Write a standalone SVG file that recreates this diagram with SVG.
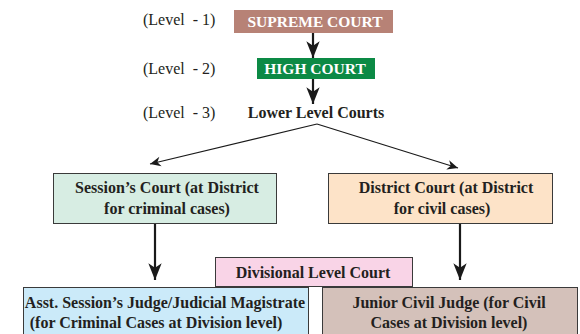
<svg xmlns="http://www.w3.org/2000/svg" width="580" height="334" viewBox="0 0 580 334">
<defs>
<style>
.lvl{font-family:"Liberation Serif","Times New Roman",serif;font-size:16px;fill:#231f20;white-space:pre}
.b{font-family:"Liberation Serif","Times New Roman",serif;font-size:16px;font-weight:bold;fill:#231f20;text-anchor:middle}
.w{font-family:"Liberation Serif","Times New Roman",serif;font-size:15.5px;font-weight:bold;fill:#ffffff;text-anchor:middle}
.box{stroke:#3a3a3a;stroke-width:1}
.con{stroke:#1a1a1a;fill:none}
.thick{stroke-width:2.2}
.thin{stroke-width:1.2}
</style>
<marker id="big" markerUnits="userSpaceOnUse" markerWidth="20" markerHeight="20" viewBox="-16 -8 18 16" refX="0" refY="0" orient="auto">
<path d="M0,0 L-15,-6 L-11,0 L-15,6 Z" fill="#1a1a1a"/>
</marker>
<marker id="small" markerUnits="userSpaceOnUse" markerWidth="14" markerHeight="14" viewBox="-12 -6 13 12" refX="0" refY="0" orient="auto">
<path d="M0,0 L-10,-4.5 L-7,0 L-10,4.5 Z" fill="#1a1a1a"/>
</marker>
</defs>

<g id="level-labels">
<text class="lvl" x="143" y="25" xml:space="preserve">(Level  - 1)</text>
<text class="lvl" x="143" y="74" xml:space="preserve">(Level  - 2)</text>
<text class="lvl" x="143" y="118" xml:space="preserve">(Level  - 3)</text>
</g>

<g id="connectors">
<line class="con thick" x1="313" y1="33" x2="313" y2="58" marker-end="url(#big)"/>
<line class="con thick" x1="313" y1="79" x2="313" y2="104" marker-end="url(#big)"/>
<line class="con thin" x1="317" y1="124" x2="150" y2="164" marker-end="url(#small)"/>
<line class="con thin" x1="317" y1="124" x2="458" y2="168" marker-end="url(#small)"/>
<line class="con thick" x1="155" y1="224" x2="155" y2="280" marker-end="url(#big)"/>
<line class="con thick" x1="460" y1="224" x2="460" y2="280" marker-end="url(#big)"/>
</g>

<g id="supreme-court">
<rect x="234" y="10" width="159" height="23" fill="#b78276"/>
<text class="w" x="315" y="27">SUPREME COURT</text>
</g>

<g id="high-court">
<rect x="257" y="58" width="118" height="21" fill="#0c8a45"/>
<text class="w" x="315" y="74">HIGH COURT</text>
</g>

<g id="lower-level-courts">
<text class="b" x="316" y="118">Lower Level Courts</text>
</g>

<g id="sessions-court">
<rect class="box" x="53.5" y="173.5" width="223" height="50" fill="#d7ede3"/>
<text class="b" x="167" y="193">Session’s Court (at District</text>
<text class="b" x="167" y="214">for criminal cases)</text>
</g>

<g id="district-court">
<rect class="box" x="328.5" y="173.5" width="224" height="50" fill="#fde3c8"/>
<text class="b" x="446" y="193">District Court (at District</text>
<text class="b" x="442" y="214">for civil cases)</text>
</g>

<g id="divisional-level-court">
<rect class="box" x="215.5" y="257.5" width="197" height="29" fill="#f9d4e7"/>
<text class="b" x="313" y="278">Divisional Level Court</text>
</g>

<g id="asst-sessions-judge">
<rect class="box" x="23.5" y="287.5" width="285" height="50" fill="#cbeaf9"/>
<text class="b" x="165" y="308">Asst. Session’s Judge/Judicial Magistrate</text>
<text class="b" x="156" y="328">(for Criminal Cases at Division level)</text>
</g>

<g id="junior-civil-judge">
<rect class="box" x="322.5" y="287.5" width="255" height="50" fill="#d4c1ba"/>
<text class="b" x="449" y="308">Junior Civil Judge (for Civil</text>
<text class="b" x="449" y="328">Cases at Division level)</text>
</g>
</svg>
